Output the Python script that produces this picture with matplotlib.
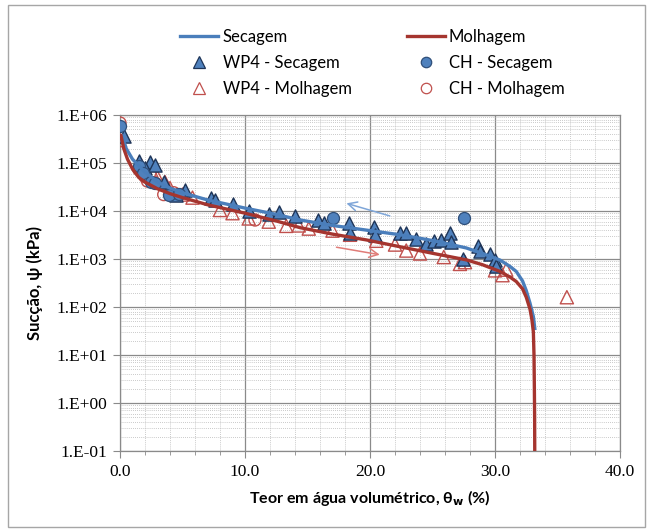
import matplotlib
matplotlib.use("Agg")
import matplotlib.pyplot as plt
from matplotlib.ticker import LogLocator, FixedLocator, MultipleLocator, NullFormatter
from matplotlib.patches import Rectangle
from matplotlib.lines import Line2D

# ---- data ----
curve_sec_x = [0.1, 0.5, 1.0, 2.0, 3.0, 4.0, 5.0, 7.0, 10.0, 12.5, 14.4, 17.0, 19.7, 22.4,
               25.1, 27.7, 29.0, 30.4, 31.2, 31.7, 32.2, 32.5, 32.8, 33.07, 33.2]
curve_sec_y = [4.0e5, 2.0e5, 1.2e5, 6.5e4, 4.0e4, 3.0e4, 2.4e4, 1.7e4, 1.15e4, 8.5e3, 6.5e3,
               5.0e3, 4.0e3, 3.2e3, 2.4e3, 1.7e3, 1.3e3, 9.5e2, 7.0e2, 5.5e2, 3.5e2, 2.2e2,
               1.2e2, 63, 33]

curve_mol_x = [0.05, 0.3, 0.6, 1.0, 1.5, 2.0, 3.0, 4.0, 5.0, 7.0, 10.0, 12.5, 14.4, 17.0,
               19.7, 22.4, 25.1, 27.7, 29.0, 30.4, 31.2, 31.7, 32.2, 32.5, 32.8, 32.95,
               33.07, 33.12, 33.15, 33.17, 33.18]
curve_mol_y = [4.0e5, 2.0e5, 1.2e5, 7.5e4, 5.0e4, 4.0e4, 2.9e4, 2.3e4, 1.9e4, 1.35e4, 9.0e3,
               6.2e3, 4.5e3, 3.3e3, 2.5e3, 1.8e3, 1.3e3, 9.6e2, 7.6e2, 5.5e2, 4.2e2, 3.4e2,
               2.4e2, 1.6e2, 90, 55, 30, 10, 2, 0.5, 0.1]

wp4_sec_x = [0.3, 1.5, 2.4, 2.0, 2.8, 3.5, 5.2, 4.5, 7.3, 7.6, 9.0, 10.3, 11.9, 12.7, 14.0,
             15.8, 16.3, 18.3, 18.4, 20.3, 20.4, 22.4, 22.9, 23.7, 24.5, 25.1, 25.7, 26.4,
             26.5, 27.4, 28.6, 28.8, 29.6, 30.0, 30.1]
wp4_sec_y = [3.7e5, 1.1e5, 1.05e5, 8e4, 9e4, 4e4, 2.8e4, 2.2e4, 1.9e4, 1.7e4, 1.4e4, 1.0e4,
             8.7e3, 9.4e3, 7.9e3, 6.5e3, 5.6e3, 5.5e3, 3.5e3, 4.7e3, 3.2e3, 3.5e3, 3.4e3,
             2.6e3, 2.1e3, 2.4e3, 2.5e3, 3.5e3, 2.3e3, 1.0e3, 1.9e3, 1.5e3, 1.3e3, 9.4e2, 7.2e2]

wp4_mol_x = [0.0, 1.7, 2.5, 3.0, 3.6, 4.0, 5.0, 5.8, 8.0, 9.0, 10.3, 11.9, 13.3, 14.3, 15.1,
             17.0, 18.4, 20.5, 22.0, 22.9, 24.0, 25.9, 27.2, 27.6, 30.0, 30.6, 30.9, 35.75]
wp4_mol_y = [3.0e5, 9e4, 7e4, 5e4, 4e4, 3e4, 2.2e4, 1.9e4, 1.05e4, 9e3, 7e3, 6e3, 4.9e3, 5e3,
             4.3e3, 3.9e3, 3.2e3, 2.4e3, 2.0e3, 1.5e3, 1.3e3, 1.1e3, 7.9e2, 8.6e2, 5.8e2,
             4.6e2, 6.0e2, 1.6e2]

ch_sec_x = [0.0, 1.5, 1.8, 2.5, 2.8, 3.9, 4.7, 17.0, 27.5]
ch_sec_y = [6.0e5, 8.6e4, 6.2e4, 4.0e4, 3.8e4, 2.2e4, 2.3e4, 7e3, 7e3]

ch_mol_x = [0.0, 1.5, 2.0, 2.2, 2.8, 3.5, 4.3, 10.8]
ch_mol_y = [6.8e5, 7.4e4, 5.2e4, 4.2e4, 3.8e4, 2.2e4, 2.4e4, 6.5e3]

arrow_sec = [(21.8, 7.6e3), (17.9, 1.5e4)]   # (start), (end)
arrow_mol = [(17.1, 1.8e3), (21.0, 1.2e3)]

x_ticks = [0, 10, 20, 30, 40]
x_tick_labels = ["0.0", "10.0", "20.0", "30.0", "40.0"]
y_ticks = [1e-1, 1e0, 1e1, 1e2, 1e3, 1e4, 1e5, 1e6]
y_tick_labels = ["1.E-01", "1.E+00", "1.E+01", "1.E+02", "1.E+03", "1.E+04", "1.E+05", "1.E+06"]

# ---- style ----
BLUE = "#4a7ebb"
RED = "#a5352f"
MK_BLUE = "#4f81bd"
MK_BLUE_EDGE = "#1f3558"
MK_RED_EDGE = "#c0504d"
SANS = ["Lato", "DejaVu Sans"]
SERIF = ["Liberation Serif", "DejaVu Serif"]

fig = plt.figure(figsize=(6.51, 5.32), dpi=100)
ax = fig.add_axes([120/651, 1-451/532, 500/651, 336/532])

ax.set_yscale("log")
ax.set_xlim(0, 40)
ax.set_ylim(1e-1, 1e6)

# grids
ax.xaxis.set_major_locator(FixedLocator(x_ticks))
ax.xaxis.set_minor_locator(MultipleLocator(2))
ax.yaxis.set_major_locator(FixedLocator(y_ticks))
ax.yaxis.set_minor_locator(LogLocator(base=10, subs=[2, 3, 4, 5, 6, 7, 8, 9], numticks=20))
ax.yaxis.set_minor_formatter(NullFormatter())
ax.grid(which="major", color="#8a8a8a", lw=0.9, ls="-", zorder=0)
ax.grid(which="minor", color="#b8b8b8", lw=0.6, ls=(0, (1, 1.5)), zorder=0)
ax.set_axisbelow(True)

ax.set_xticks(x_ticks)
ax.set_xticklabels(x_tick_labels, fontfamily=SERIF, fontsize=12.5)
ax.set_yticks(y_ticks)
ax.set_yticklabels(y_tick_labels, fontfamily=SERIF, fontsize=12.5)
ax.tick_params(axis="both", which="major", length=5, width=0.8, color="#8a8a8a", pad=4)
ax.tick_params(axis="x", which="minor", length=3, width=0.6, color="#8a8a8a")
ax.tick_params(axis="y", which="minor", length=0)
for s in ax.spines.values():
    s.set_color("#8a8a8a")
    s.set_linewidth(0.9)

# markers
ax.scatter(wp4_mol_x, wp4_mol_y, marker="^", s=90, facecolors="none",
           edgecolors=MK_RED_EDGE, linewidths=1.0, zorder=3)
ax.scatter(ch_mol_x, ch_mol_y, marker="o", s=75, facecolors="none",
           edgecolors=MK_RED_EDGE, linewidths=1.0, zorder=3)
ax.scatter(wp4_sec_x, wp4_sec_y, marker="^", s=90, facecolors=MK_BLUE,
           edgecolors=MK_BLUE_EDGE, linewidths=1.0, zorder=4)
ax.scatter(ch_sec_x, ch_sec_y, marker="o", s=75, facecolors=MK_BLUE,
           edgecolors="#2f4f7a", linewidths=0.9, zorder=4)

# curves
ax.plot(curve_sec_x, curve_sec_y, color=BLUE, lw=2.4, zorder=5, solid_capstyle="butt")
ax.plot(curve_mol_x, curve_mol_y, color=RED, lw=2.4, zorder=5, solid_capstyle="butt")

# arrows
ax.annotate("", xy=arrow_sec[1], xytext=arrow_sec[0],
            arrowprops=dict(arrowstyle="->", color="#7fa6d8", lw=1.1, mutation_scale=16), zorder=6)
ax.annotate("", xy=arrow_mol[1], xytext=arrow_mol[0],
            arrowprops=dict(arrowstyle="->", color="#e07c78", lw=1.1, mutation_scale=16), zorder=6)

# labels
ax.set_ylabel("Sucção, ψ (kPa)", fontfamily=SANS, fontsize=12, fontweight="bold", labelpad=10)
ax.set_xlabel("Teor em água volumétrico, θ$_\\mathbf{w}$ (%)", fontfamily=SANS, fontsize=11.5,
              fontweight="bold", labelpad=6)

# legend
handles = [
    Line2D([], [], color=BLUE, lw=2.4),
    Line2D([], [], ls="none", marker="^", ms=8, mfc=MK_BLUE, mec=MK_BLUE_EDGE, mew=0.9),
    Line2D([], [], ls="none", marker="^", ms=8, mfc="none", mec=MK_RED_EDGE, mew=0.9),
    Line2D([], [], color=RED, lw=2.4),
    Line2D([], [], ls="none", marker="o", ms=7.5, mfc=MK_BLUE, mec="#2f4f7a", mew=0.9),
    Line2D([], [], ls="none", marker="o", ms=7.5, mfc="none", mec=MK_RED_EDGE, mew=0.9),
]
labels = ["Secagem", "WP4 - Secagem", "WP4 - Molhagem",
          "Molhagem", "CH - Secagem", "CH - Molhagem"]
fig.legend(handles, labels, loc="upper left", bbox_to_anchor=(180/651, 1-29/532),
           ncol=2, frameon=False, prop={"family": SANS, "size": 12},
           handlelength=2.3, handletextpad=0.25, columnspacing=3.3, labelspacing=0.6,
           borderaxespad=0, borderpad=0)

# outer border
fig.add_artist(Rectangle((8/651, 5/532), 637/651, 522/532, transform=fig.transFigure,
                         fill=False, edgecolor="#a6a6a6", lw=1.0))

fig.savefig("out.png", dpi=100)
